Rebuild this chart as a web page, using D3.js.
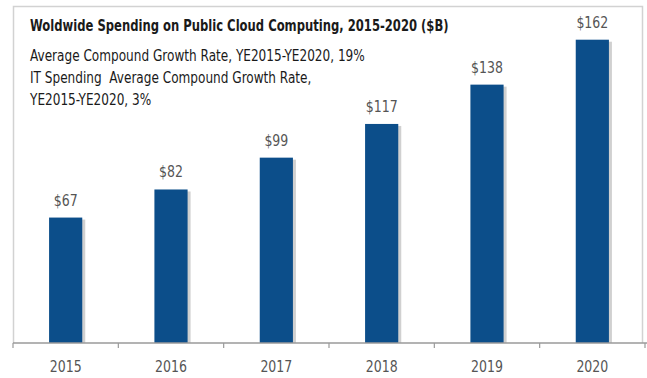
<!DOCTYPE html>
<html>
<head>
<meta charset="utf-8">
<script src="https://cdn.jsdelivr.net/npm/d3@7"></script>
<style>
body{margin:0;background:#fff;}
svg{display:block;font-family:"Liberation Sans Narrow","DejaVu Sans Condensed",sans-serif;}
</style>
</head>
<body>
<div id="chart"></div>
<script>
var years = ["2015", "2016", "2017", "2018", "2019", "2020"];
var spending = [67, 82, 99, 117, 138, 162];
var valueLabels = ["$67", "$82", "$99", "$117", "$138", "$162"];
var titleText = "Woldwide Spending on Public Cloud Computing, 2015-2020 ($B)";
var noteLines = [
	"Average Compound Growth Rate, YE2015-YE2020, 19%",
	"IT Spending  Average Compound Growth Rate,",
	"YE2015-YE2020, 3%"
];

var W = 647, H = 378;
var margin = {left: 13, right: 2, top: 6, bottom: 35};
var axisY = H - margin.bottom; // 343

var svg = d3.select("#chart").append("svg")
	.attr("width", W).attr("height", H);

// squeeze text horizontally, the original uses a narrow face
function narrow(sel, k){
	sel.each(function(){
		var len = this.getComputedTextLength();
		d3.select(this).attr("textLength", len * k).attr("lengthAdjust", "spacingAndGlyphs");
	});
}

var x = d3.scaleBand().domain(years)
	.range([margin.left, W - margin.right])
	.paddingInner(0.685).paddingOuter(0.3425);
var y = d3.scaleLinear().domain([0, 180]).range([axisY, margin.top]);

// frame
svg.append("path")
	.attr("d", "M" + (margin.left + 0.5) + "," + axisY + "V" + (margin.top + 0.5) +
		"H" + (W - 4.5) + "V" + axisY)
	.attr("fill", "none").attr("stroke", "#d2d2d2").attr("stroke-width", 1.5);

// bars (with a soft shadow on the right)
svg.append("g").selectAll("rect").data(spending).enter().append("rect")
	.attr("x", function(d, i){return x(years[i]) + 3;})
	.attr("y", function(d){return y(d) + 2;})
	.attr("width", x.bandwidth())
	.attr("height", function(d){return axisY - y(d) - 2;})
	.attr("fill", "#d0d0d0");
svg.append("g").selectAll("rect").data(spending).enter().append("rect")
	.attr("x", function(d, i){return x(years[i]);})
	.attr("y", function(d){return y(d);})
	.attr("width", x.bandwidth())
	.attr("height", function(d){return axisY - y(d);})
	.attr("fill", "#0c4e8a");

svg.append("g").selectAll("text").data(spending).enter().append("text")
	.attr("x", function(d, i){return x(years[i]) + x.bandwidth()/2;})
	.attr("y", function(d){return y(d) - 12;})
	.attr("text-anchor", "middle")
	.attr("font-size", 16).attr("fill", "#555")
	.text(function(d, i){return valueLabels[i];})
	.call(narrow, 0.87);

// x axis: ticks between categories
var axisG = svg.append("g").attr("transform", "translate(0," + axisY + ")");
var tickPos = years.map(function(yr){return x(yr) - x.step() * x.paddingInner() / 2;});
tickPos.push(x(years[years.length-1]) + x.bandwidth() + x.step() * x.paddingInner() / 2);
axisG.append("line")
	.attr("x1", margin.left).attr("x2", W)
	.attr("stroke", "#9a9a9a").attr("stroke-width", 1.5);
axisG.selectAll(".tick").data(tickPos).enter().append("line")
	.attr("class", "tick")
	.attr("x1", function(d){return d;}).attr("x2", function(d){return d;})
	.attr("y1", 0).attr("y2", 5)
	.attr("stroke", "#9a9a9a").attr("stroke-width", 1.2);
axisG.selectAll(".lbl").data(years).enter().append("text")
	.attr("class", "lbl")
	.attr("x", function(d){return x(d) + x.bandwidth()/2;})
	.attr("y", 29)
	.attr("text-anchor", "middle")
	.attr("font-size", 16).attr("fill", "#555")
	.text(function(d){return d;})
	.call(narrow, 0.87);

// title + notes
svg.append("text")
	.attr("x", 30).attr("y", 31)
	.attr("font-size", 16).attr("font-weight", "bold").attr("fill", "#1a1a1a")
	.text(titleText)
	.call(narrow, 0.805);
svg.append("g").selectAll("text").data(noteLines).enter().append("text")
	.attr("x", 30).attr("y", function(d, i){return 61 + i * 22;})
	.attr("font-size", 16).attr("fill", "#1a1a1a")
	.attr("xml:space", "preserve").style("white-space", "pre")
	.text(function(d){return d;})
	.call(narrow, 0.84);
</script>
</body>
</html>
